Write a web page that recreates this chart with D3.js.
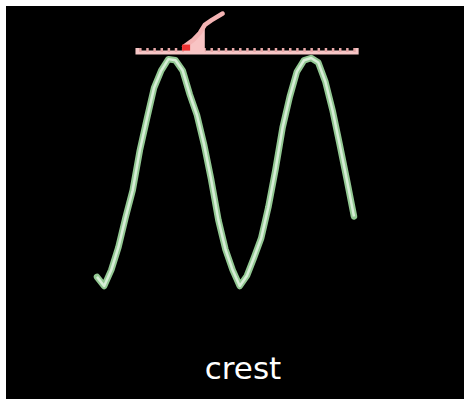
<!DOCTYPE html>
<html>
<head>
<meta charset="utf-8">
<script src="https://cdn.jsdelivr.net/npm/d3@7"></script>
<style>
  body { margin: 0; background: #fff; }
  svg { display: block; }
</style>
</head>
<body>
<svg id="chart"></svg>
<script>
// wave samples
const waveIndex = d3.range(0, 37)
const waveValues = [
  -0.92, -1.0, -0.86, -0.66, -0.40, -0.16, 0.19, 0.47, 0.74, 0.89,
  0.99, 0.98, 0.89, 0.68, 0.50, 0.24, -0.07, -0.42, -0.68, -0.86,
  -1.0, -0.91, -0.75, -0.58, -0.31, 0.02, 0.39, 0.66, 0.88, 0.98,
  1.0, 0.96, 0.79, 0.54, 0.24, -0.07, -0.39
]
// crest line level and its extent (in wave index units)
const crestLevel = 1.07
const crestExtent = [5.6, 36.3]
// little red flick near the first crest
const flickIndex = [12.2, 13.5, 14.4, 15.1, 16.0, 17.6]
const flickValues = [1.10, 1.16, 1.22, 1.29, 1.33, 1.39]
const label = 'crest'

const width = 464, height = 399

const svg = d3.select('#chart')
    .attr('width', width)
    .attr('height', height)

svg.append('rect')
    .attr('x', 6).attr('y', 6)
    .attr('width', width - 6).attr('height', height - 6)
    .attr('fill', '#000')

const x = d3.scaleLinear().domain([0, 36]).range([97, 354])
const y = d3.scaleLinear().domain([-1, 1]).range([286, 58])

const line = d3.line()
    .x((d, i) => x(waveIndex[i]))
    .y(d => y(d))

// wave: green edge, pale centre
svg.append('path')
    .datum(waveValues)
    .attr('d', line)
    .attr('fill', 'none')
    .attr('stroke', '#93c893')
    .attr('stroke-width', 6.5)
    .attr('stroke-linejoin', 'round')
    .attr('stroke-linecap', 'round')

svg.append('path')
    .datum(waveValues)
    .attr('d', line)
    .attr('fill', 'none')
    .attr('stroke', '#d8eed8')
    .attr('stroke-width', 2.5)
    .attr('stroke-linejoin', 'round')

// crest line with upward ticks
const crestY = y(crestLevel) + 2
const tickScale = d3.scaleLinear().domain(crestExtent).range([x(crestExtent[0]), x(crestExtent[1])])
const crestAxis = d3.axisTop(tickScale)
    .tickValues(d3.range(Math.ceil(crestExtent[0]), crestExtent[1], 1))
    .tickSize(4)
    .tickFormat('')

const axisG = svg.append('g')
    .attr('transform', `translate(0,${crestY})`)
    .call(crestAxis)

axisG.select('.domain')
    .attr('stroke', '#f6c6c6')
    .attr('stroke-width', 4)
axisG.selectAll('.tick line')
    .attr('stroke', '#e8a8a8')
    .attr('stroke-width', 2.5)

// red flick: filled foot, thin tail
svg.append('path')
    .datum(flickValues.slice(0, 4))
    .attr('d', d3.area()
        .x((d, i) => x(flickIndex[i]))
        .y0(crestY)
        .y1(d => y(d)))
    .attr('fill', '#f8c4c4')

svg.append('path')
    .datum(flickValues)
    .attr('d', d3.line().x((d, i) => x(flickIndex[i])).y(d => y(d)))
    .attr('fill', 'none')
    .attr('stroke', '#f4b4b4')
    .attr('stroke-width', 4.5)
    .attr('stroke-linecap', 'round')

svg.append('rect')
    .attr('x', x(flickIndex[0]) - 2)
    .attr('y', y(flickValues[0]) - 2)
    .attr('width', 8).attr('height', 6)
    .attr('fill', '#ee3030')

svg.append('text')
    .attr('x', 243)
    .attr('y', 379)
    .attr('text-anchor', 'middle')
    .attr('fill', '#fff')
    .attr('font-family', 'DejaVu Sans, sans-serif')
    .attr('font-size', 31)
    .text(label)
</script>
</body>
</html>
